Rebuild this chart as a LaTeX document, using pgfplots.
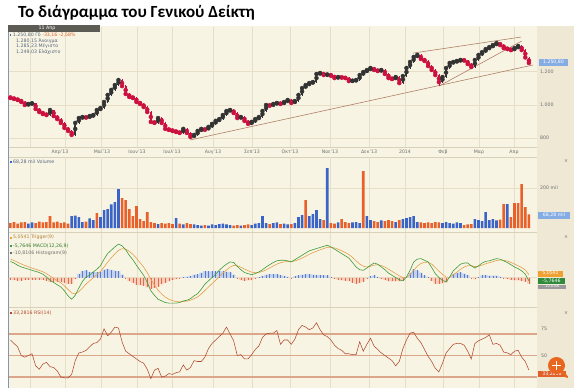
\documentclass[border=0pt]{standalone}
\usepackage{fontspec}
\setmainfont{DejaVu Sans}
\newfontfamily\titlefont{Carlito}[BoldFont={Carlito Bold}]
\usepackage{pgfplots}
\usepackage{pgfplotstable}
\pgfplotsset{compat=1.18}

\definecolor{bgc}{HTML}{F8F4E3}
\definecolor{bgr}{HTML}{EEE8D5}
\definecolor{grd}{HTML}{E6DEC6}
\definecolor{sep}{HTML}{D8D0B8}
\definecolor{upc}{HTML}{333333}
\definecolor{dnc}{HTML}{CC1040}
\definecolor{vblue}{HTML}{3A64C8}
\definecolor{vorg}{HTML}{E8602A}
\definecolor{trend}{HTML}{B08068}
\definecolor{sigc}{HTML}{E3A04A}
\definecolor{macc}{HTML}{3E9A3A}
\definecolor{hpos}{HTML}{C4D2EE}
\definecolor{hposl}{HTML}{5A7CCC}
\definecolor{hneg}{HTML}{F6CFBF}
\definecolor{hnegl}{HTML}{E26A44}
\definecolor{rsic}{HTML}{B04A2E}
\definecolor{rsil}{HTML}{DCA68A}
\definecolor{txt}{HTML}{55657F}
\definecolor{chg}{HTML}{E0602A}
\definecolor{lab}{HTML}{6E6E6E}
\definecolor{hdr}{HTML}{5C5C55}
\definecolor{pbox}{HTML}{86ACE4}
\definecolor{gbox}{HTML}{2F8A3C}
\definecolor{obox}{HTML}{EFA030}
\definecolor{rbox}{HTML}{E0602A}
\definecolor{mag}{HTML}{E8661E}
\definecolor{bord}{HTML}{8595AD}

\newcommand{\sz}{\fontsize{4.7}{5.5}\selectfont}

\pgfplotstableread{
x o hi lo c v b
0 1048 1052 1036 1042 25 0
2 1042 1046 1031 1036 30 0
4 1036 1040 1026 1030 22 0
6 1030 1033 1013 1018 28 0
8 1018 1021 994 1000 30 0
10 1000 1012 996 1006 22 1
12 1006 1016 1002 1010 28 1
14 1010 1013 970 976 25 0
16 976 980 952 958 32 0
18 958 962 941 946 28 0
20 946 950 934 940 30 0
22 940 975 936 970 60 0
24 970 973 929 934 28 0
26 934 938 910 916 32 0
28 916 920 887 893 25 0
30 893 897 857 863 28 0
32 863 868 839 845 22 0
34 845 850 812 821 60 1
36 821 898 816 893 62 1
38 893 927 888 922 55 1
40 922 933 917 928 30 1
42 928 932 920 925 32 0
44 925 939 921 934 48 1
46 934 945 930 940 40 1
48 940 975 936 970 75 0
50 970 987 966 982 55 1
52 982 1023 978 1018 90 1
54 1018 1065 1014 1060 95 1
56 1060 1095 1055 1090 118 1
58 1090 1125 1085 1119 130 1
60 1119 1158 1114 1149 195 1
62 1149 1153 1107 1113 150 0
64 1113 1117 1060 1066 140 0
66 1066 1070 1043 1048 95 0
68 1048 1052 1037 1042 60 0
70 1042 1046 1012 1018 110 0
72 1018 1022 1000 1006 45 0
74 1006 1010 982 988 35 0
76 988 992 952 958 80 0
78 958 962 892 899 30 0
80 899 903 887 893 25 0
82 893 927 889 922 20 1
84 922 926 887 893 25 0
86 893 897 851 857 22 0
88 857 862 846 851 25 0
90 851 856 840 845 20 0
92 845 850 834 839 50 1
94 839 843 827 833 22 0
96 833 862 829 857 18 1
98 857 861 828 833 25 0
100 833 837 795 809 20 0
102 809 826 804 821 18 1
104 821 850 817 845 15 1
106 845 862 841 857 12 1
108 857 861 847 852 15 0
110 852 874 848 869 12 1
112 869 892 865 887 18 1
114 887 910 883 905 15 1
116 905 921 901 916 20 1
118 916 945 912 940 22 1
120 940 969 936 964 18 1
122 964 976 960 970 15 1
124 970 974 946 952 12 0
126 952 956 917 922 15 0
128 922 933 918 928 12 1
130 928 932 900 905 15 0
132 905 909 881 887 18 0
134 887 904 883 899 15 1
136 899 921 895 916 22 1
138 916 933 912 928 25 1
140 928 969 924 964 60 1
142 964 1005 960 1000 25 1
144 1000 1004 990 996 20 0
146 996 1011 992 1006 25 1
148 1006 1017 1002 1012 28 1
150 1012 1016 1001 1006 20 0
152 1006 1023 1002 1018 22 1
154 1018 1035 1014 1030 18 1
156 1030 1034 1007 1012 20 0
158 1012 1029 1008 1024 25 1
160 1024 1065 1020 1060 55 1
162 1060 1106 1056 1101 65 1
164 1101 1124 1097 1119 140 0
166 1119 1136 1115 1131 60 1
168 1131 1142 1127 1137 70 1
170 1137 1190 1133 1185 90 1
172 1185 1196 1181 1191 45 1
174 1191 1195 1174 1179 40 0
176 1179 1187 1175 1182 300 1
178 1182 1186 1170 1175 25 0
180 1175 1179 1156 1161 22 0
182 1161 1172 1157 1167 28 1
184 1167 1171 1159 1164 45 0
186 1164 1168 1156 1161 30 0
188 1161 1165 1138 1143 25 0
190 1143 1150 1139 1145 28 1
192 1145 1154 1141 1149 30 1
194 1149 1184 1145 1179 25 1
196 1179 1202 1175 1197 285 0
198 1197 1214 1193 1209 60 1
200 1209 1226 1205 1221 40 1
202 1221 1225 1204 1209 35 0
204 1209 1213 1198 1203 30 0
206 1203 1214 1199 1209 38 1
208 1209 1213 1180 1185 35 0
210 1185 1189 1156 1161 40 0
212 1161 1165 1150 1155 35 0
214 1155 1172 1151 1167 30 1
216 1167 1171 1125 1131 40 0
218 1131 1178 1127 1173 45 1
220 1173 1226 1169 1221 50 1
222 1221 1262 1217 1257 55 1
224 1257 1292 1253 1287 60 1
226 1287 1304 1283 1299 30 1
228 1299 1303 1270 1275 28 0
230 1275 1279 1258 1263 25 0
232 1263 1267 1228 1233 28 0
234 1233 1237 1204 1209 25 0
236 1209 1213 1174 1179 30 0
238 1179 1183 1115 1137 28 0
240 1137 1172 1133 1167 25 1
242 1167 1226 1163 1221 30 1
244 1221 1256 1217 1251 25 1
246 1251 1262 1247 1257 22 1
248 1257 1268 1253 1263 28 1
250 1263 1274 1259 1269 25 1
252 1269 1273 1261 1266 15 0
254 1266 1270 1240 1245 18 0
256 1245 1249 1222 1227 20 0
258 1227 1274 1223 1269 45 1
260 1269 1304 1265 1299 40 1
262 1299 1321 1295 1316 35 1
264 1316 1339 1312 1334 80 1
266 1334 1351 1330 1346 40 1
268 1346 1363 1342 1358 45 1
270 1358 1375 1354 1370 38 1
272 1370 1374 1353 1358 42 0
274 1358 1362 1335 1340 120 0
276 1340 1344 1329 1334 120 1
278 1334 1338 1323 1328 55 0
280 1328 1345 1324 1340 125 0
282 1340 1357 1336 1352 125 0
284 1352 1356 1323 1328 220 0
286 1328 1332 1279 1284 105 0
288 1280 1285 1249 1251 68 0
}\price

\pgfplotstableread{
x m s hist
0 29 33.0 -4.0
2 26 30.5 -4.5
4 22 27.4 -5.4
6 19 24.4 -5.4
8 17 21.7 -4.7
10 15 19.3 -4.3
12 13 17.0 -4.0
14 11 14.8 -3.8
16 9 12.7 -3.7
18 6 10.3 -4.3
20 1 7.0 -6.0
22 -5 2.7 -7.7
24 -9 -1.5 -7.5
26 -13 -5.6 -7.4
28 -17 -9.7 -7.3
30 -24 -14.9 -9.1
32 -33 -21.4 -11.6
34 -39 -27.7 -11.3
36 -32 -29.3 -2.7
38 -19 -25.6 6.6
40 -7 -18.9 11.9
42 1 -11.7 12.7
44 4 -6.1 10.1
46 10 -0.3 10.3
48 15 5.2 9.8
50 21 10.9 10.1
52 33 18.9 14.1
54 43 27.5 15.5
56 49 35.3 13.7
58 55 42.4 12.6
60 60 48.7 11.3
62 57 51.7 5.3
64 50 51.1 -1.1
66 40 47.1 -7.1
68 32 41.7 -9.7
70 22 34.6 -12.6
72 13 26.8 -13.8
74 4 18.6 -14.6
76 -9 8.7 -17.7
78 -24 -3.1 -20.9
80 -32 -13.5 -18.5
82 -39 -22.7 -16.3
84 -42 -29.6 -12.4
86 -45 -35.2 -9.8
88 -46 -39.1 -6.9
90 -46 -41.6 -4.4
92 -46 -43.2 -2.8
94 -45 -43.8 -1.2
96 -42 -43.2 1.2
98 -41 -42.4 1.4
100 -38 -40.8 2.8
102 -33 -38.0 5.0
104 -29 -34.8 5.8
106 -21 -29.8 8.8
108 -12 -23.4 11.4
110 -6 -17.1 11.1
112 0 -11.0 11.0
114 6 -4.9 10.9
116 13 1.5 11.5
118 19 7.8 11.2
120 24 13.6 10.4
122 28 18.8 9.2
124 27 21.8 5.2
126 20 21.1 -1.1
128 14 18.6 -4.6
130 9 15.1 -6.1
132 7 12.2 -5.2
134 5 9.6 -4.6
136 7 8.7 -1.7
138 10 9.2 0.8
140 14 10.9 3.1
142 19 13.8 5.2
144 23 17.1 5.9
146 27 20.7 6.3
148 30 24.0 6.0
150 31 26.5 4.5
152 31 28.1 2.9
154 30 28.8 1.2
156 28 28.5 -0.5
158 32 29.8 2.2
160 36 32.0 4.0
162 40 34.9 5.1
164 44 38.2 5.8
166 48 41.7 6.3
168 50 44.7 5.3
170 52 47.3 4.7
172 54 49.7 4.3
174 56 52.0 4.0
176 58 54.2 3.8
178 55 54.5 0.5
180 51 53.2 -2.2
182 47 51.0 -4.0
184 43 48.1 -5.1
186 39 44.8 -5.8
188 35 41.3 -6.3
190 27 36.2 -9.2
192 19 30.0 -11.0
194 14 24.2 -10.2
196 13 20.2 -7.2
198 17 19.0 -2.0
200 22 20.1 1.9
202 26 22.2 3.8
204 24 22.9 1.1
206 19 21.5 -2.5
208 14 18.8 -4.8
210 8 14.9 -6.9
212 4 11.0 -7.0
214 0 7.0 -7.0
216 -4 3.1 -7.1
218 -6 -0.2 -5.8
220 1 0.2 0.8
222 13 4.8 8.2
224 28 13.2 14.8
226 33 20.3 12.7
228 34 25.2 8.8
230 31 27.3 3.7
232 28 27.6 0.4
234 18 24.1 -6.1
236 7 18.0 -11.0
238 0 11.5 -11.5
240 -5 5.6 -10.6
242 -8 0.7 -8.7
244 1 0.8 0.2
246 12 4.8 7.2
248 18 9.6 8.4
250 24 14.8 9.2
252 26 18.8 7.2
254 26 21.4 4.6
256 21 21.3 -0.3
258 17 19.7 -2.7
260 21 20.2 0.8
262 26 22.3 3.7
264 29 24.7 4.3
266 30 26.6 3.4
268 32 28.5 3.5
270 34 30.5 3.5
272 33 31.4 1.6
274 30 30.9 -0.9
276 27 29.5 -2.5
278 23 27.2 -4.2
280 19 24.2 -5.2
282 16 21.3 -5.3
284 12 17.9 -5.9
286 6 13.6 -7.6
288 -5.8 5.1 -10.9
}\macd

\pgfplotstableread{
x r
0 68
2 64
4 60
6 50
8 48
10 50
12 52
14 38
16 34
18 40
20 42
22 37
24 36
26 32
28 25
30 24
32 24
34 28
36 44
38 53
40 54
42 56
44 60
46 64
48 65
50 69
52 81
54 73
56 77
58 83
60 82
62 66
64 55
66 52
68 49
70 46
72 43
74 41
76 34
78 23
80 33
82 35
84 25
86 26
88 29
90 28
92 30
94 31
96 39
98 33
100 36
102 44
104 43
106 43
108 48
110 58
112 64
114 68
116 72
118 76
120 83
122 75
124 67
126 50
128 51
130 46
132 46
134 51
136 57
138 61
140 71
142 75
144 76
146 76
148 79
150 63
152 68
154 68
156 63
158 69
160 80
162 85
164 83
166 80
168 82
170 88
172 80
174 74
176 72
178 68
180 62
182 58
184 56
186 52
188 52
190 51
192 51
194 66
196 55
198 63
200 70
202 61
204 57
206 53
208 50
210 47
212 44
214 38
216 43
218 58
220 68
222 76
224 77
226 70
228 65
230 57
232 49
234 43
236 35
238 31
240 41
242 53
244 58
246 63
248 64
250 64
252 62
254 55
256 46
258 64
260 67
262 69
264 71
266 74
268 63
270 64
272 62
274 54
276 53
278 51
280 55
282 56
284 48
286 43
288 33
}\rsi

\pgfplotsset{panel/.style={scale only axis, width=528pt, xmin=-0.8, xmax=292.5,
  anchor=south west, axis line style={draw=none}, major tick length=0pt,
  xtick={10.9,30.3,50.3,70.3,89.8,112.5,134.2,155.3,177.5,199.2,219.2,240.3,260.3,279.8},
  xticklabels={}, yticklabels={}, xmajorgrids, ymajorgrids,
  grid style={color=grd, line width=0.5pt}, clip=false},
  candle/.style={only marks, mark=none, #1,
    error bars/y dir=both, error bars/y explicit, error bars/error mark=none}}

\begin{document}
\begin{tikzpicture}
\useasboundingbox (0pt,0pt) rectangle (574pt,-388pt);
\begin{scope}[x=1pt,y=-1pt]
\fill[white] (0,0) rectangle (574,388);
\fill[bgc] (8,26) rectangle (537,388);
\fill[bgr] (537,26) rectangle (574,388);
\draw[sep, line width=0.6pt] (8,147) -- (537,147);
\draw[sep, line width=0.6pt] (8,157) -- (537,157);
\draw[sep, line width=0.8pt] (8,232.5) -- (537,232.5);
\draw[sep, line width=0.8pt] (8,307.5) -- (537,307.5);
\draw[bord, line width=0.9pt] (8,26) -- (8,388);
\end{scope}

% price panel
\begin{axis}[panel, at={(9pt,-147pt)}, height=120pt, ymin=749, ymax=1466, ytick={800,1000,1200}]
\addplot[trend, line width=0.6pt, mark=none] coordinates {(99.8,791) (290.3,1239)};
\addplot[trend, line width=0.6pt, mark=none] coordinates {(223.6,1310) (283.6,1406)};
\addplot[trend, line width=0.6pt, mark=none] coordinates {(238.1,1113) (284.0,1382)};
\addplot[candle=dnc, restrict expr to domain={\thisrow{c}-\thisrow{o}}{-10000:0},
  error bars/error bar style={dnc, line width=0.6pt}]
  table[x=x, y=c, y error plus expr=\thisrow{hi}-\thisrow{c}, y error minus expr=\thisrow{c}-\thisrow{lo}] {\price};
\addplot[candle=dnc, restrict expr to domain={\thisrow{c}-\thisrow{o}}{-10000:0},
  error bars/error bar style={dnc, line width=2.3pt}]
  table[x=x, y expr=(\thisrow{o}+\thisrow{c})/2, y error expr=abs(\thisrow{c}-\thisrow{o})/2] {\price};
\addplot[candle=upc, restrict expr to domain={\thisrow{c}-\thisrow{o}}{0:10000},
  error bars/error bar style={upc, line width=0.6pt}]
  table[x=x, y=c, y error plus expr=\thisrow{hi}-\thisrow{c}, y error minus expr=\thisrow{c}-\thisrow{lo}] {\price};
\addplot[candle=upc, restrict expr to domain={\thisrow{c}-\thisrow{o}}{0:10000},
  error bars/error bar style={upc, line width=2.0pt}]
  table[x=x, y expr=(\thisrow{o}+\thisrow{c})/2, y error expr=abs(\thisrow{c}-\thisrow{o})/2] {\price};
\end{axis}

% volume panel
\begin{axis}[panel, at={(9pt,-232pt)}, height=75pt, ymin=-20, ymax=355, ytick={200}]
\addplot[ybar, bar width=2.6pt, bar shift=0pt, fill=vblue, draw=none, mark=none,
  restrict expr to domain={\thisrow{b}}{0.5:1.5}] table[x=x, y=v] {\price};
\addplot[ybar, bar width=2.6pt, bar shift=0pt, fill=vorg, draw=none, mark=none,
  restrict expr to domain={\thisrow{b}}{-0.5:0.5}] table[x=x, y=v] {\price};
\end{axis}

% MACD panel
\begin{axis}[panel, at={(9pt,-307pt)}, height=74pt, ymin=-53, ymax=80, ytick={0}]
\addplot[ybar, bar width=3.6pt, bar shift=0pt, fill=hpos, draw=none, mark=none,
  restrict expr to domain={\thisrow{hist}}{0:1000}] table[x=x, y=hist] {\macd};
\addplot[ybar, bar width=3.6pt, bar shift=0pt, fill=hneg, draw=none, mark=none,
  restrict expr to domain={\thisrow{hist}}{-1000:0}] table[x=x, y=hist] {\macd};
\addplot[ycomb, hposl, line width=0.45pt, mark=none,
  restrict expr to domain={\thisrow{hist}}{0:1000}] table[x=x, y=hist] {\macd};
\addplot[ycomb, hnegl, line width=0.45pt, mark=none,
  restrict expr to domain={\thisrow{hist}}{-1000:0}] table[x=x, y=hist] {\macd};
\addplot[sigc, line width=0.6pt, mark=none] table[x=x, y=s] {\macd};
\addplot[macc, line width=0.6pt, mark=none] table[x=x, y=m] {\macd};
\end{axis}

% RSI panel
\begin{axis}[panel, at={(9pt,-388pt)}, height=80pt, ymin=12.2, ymax=105.2, ytick={25,50,75},
  y grid style={color=rsil, line width=1.1pt}]
\addplot[rsic, line width=0.55pt, mark=none] table[x=x, y=r] {\rsi};
\end{axis}

\begin{scope}[x=1pt,y=-1pt]
% title
\node[anchor=base west, inner sep=0pt, font=\titlefont\bfseries\fontsize{17}{20}\selectfont] at (18,17.7) {Το διάγραμμα του Γενικού Δείκτη};
% header box
\fill[hdr] (8,25) rectangle (100,31.5);
\node[inner sep=0pt, text=white, font=\sz] at (47,28.3) {11 Απρ};
% price legend
\fill[txt] (9.6,34) rectangle (11.4,35.8);
\node[anchor=west, inner sep=0pt, font=\sz] at (12.7,35.1) {\textcolor{txt}{1.250,80 Γδ} \textcolor{chg}{-33,16 -2,58\%}};
\node[anchor=west, inner sep=0pt, font=\sz, text=txt] at (16,40.7) {1.280,15 Άνοιγμα};
\node[anchor=west, inner sep=0pt, font=\sz, text=txt] at (16,46.2) {1.285,23 Μέγιστο};
\node[anchor=west, inner sep=0pt, font=\sz, text=txt] at (16,51.7) {1.249,03 Ελάχιστο};
% date labels
\foreach \xx/\tt in {60/Απρ'13,102/Μαϊ'13,137/Ιουν'13,172/Ιουλ'13,213/Αυγ'13,252/Σεπ'13,290/Οκτ'13,330/Νοε'13,369/Δεκ'13,405/2014,443/Φεβ,479/Μαρ,514/Απρ}
  \node[inner sep=0pt, font=\sz, text=lab] at (\xx,152) {\tt};
% volume legend
\fill[vblue] (9.8,161) rectangle (11.6,162.8);
\node[anchor=west, inner sep=0pt, font=\sz, text=txt] at (13,162) {68,28 mil Volume};
% macd legend
\fill[obox] (9.8,236.8) rectangle (11.6,238.6);
\node[anchor=west, inner sep=0pt, font=\sz, text=sigc!80!black] at (13,237.7) {5,0541 Trigger(9)};
\fill[macc] (9.8,244.8) rectangle (11.6,246.6);
\node[anchor=west, inner sep=0pt, font=\sz, text=macc!80!black] at (13,245.7) {-5,7646 MACD(12,26,9)};
\fill[lab] (9.8,252.4) rectangle (11.6,254.2);
\node[anchor=west, inner sep=0pt, font=\sz, text=lab] at (13,253.3) {-10,8106 Histogram(9)};
% rsi legend
\fill[rsic] (9.8,312.4) rectangle (11.6,314.2);
\node[anchor=west, inner sep=0pt, font=\sz, text=rsic] at (13,313.3) {33,2816 RSI(14)};
% right axis labels
\node[anchor=west, inner sep=0pt, font=\sz, text=lab] at (540,71.5) {1.200};
\node[anchor=west, inner sep=0pt, font=\sz, text=lab] at (540,104.5) {1.000};
\node[anchor=west, inner sep=0pt, font=\sz, text=lab] at (540,138) {800};
\node[anchor=west, inner sep=0pt, font=\sz, text=lab] at (540,188) {200 mil};
\node[anchor=west, inner sep=0pt, font=\sz, text=lab] at (541,329) {75};
\node[anchor=west, inner sep=0pt, font=\sz, text=lab] at (541,355.5) {50};
% value boxes
\fill[pbox] (539,59) rectangle (568,65.5);
\node[inner sep=0pt, font=\sz, text=white] at (553.5,62.3) {1.250,80};
\fill[pbox] (538,212) rectangle (570,218.5);
\node[inner sep=0pt, font=\sz, text=white] at (554,215.3) {68,28 mil};
\fill[obox] (538,270.5) rectangle (563,276.5);
\node[inner sep=0pt, font=\sz, text=white] at (550.5,273.5) {5,0541};
\fill[gbox] (538,278) rectangle (565,284);
\node[inner sep=0pt, font=\sz, text=white] at (551.5,281) {-5,7646};
\fill[lab!70] (538,284.6) rectangle (566,288.6);
\node[inner sep=0pt, font=\fontsize{3.4}{4}\selectfont, text=white] at (552,286.6) {-10,8106};
\fill[rbox] (538,370.5) rectangle (566,377);
\node[inner sep=0pt, font=\sz, text=white] at (552,373.8) {33,2816};
% close marks
\foreach \yy in {161,237,313} \node[inner sep=0pt, font=\sz, text=lab] at (566,\yy) {×};
% magnifier icon
\draw[mag, line width=2.2pt, line cap=round] (562,371) -- (567,377);
\fill[mag] (556.5,365.5) circle (8.5);
\draw[white, line width=1.4pt] (552,365.5) -- (561,365.5);
\draw[white, line width=1.4pt] (556.5,361) -- (556.5,370);
\end{scope}
\end{tikzpicture}
\end{document}
